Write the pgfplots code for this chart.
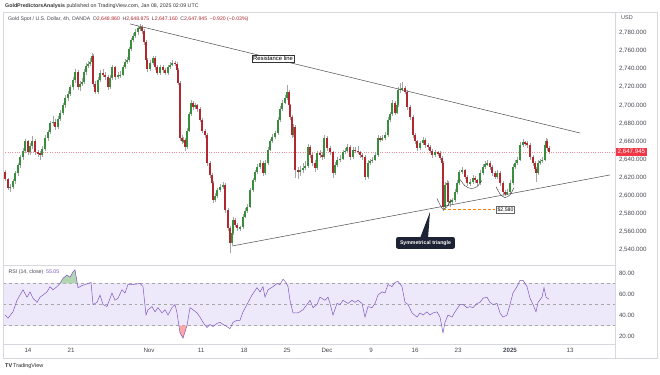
\documentclass[border=0pt]{standalone}
\usepackage{pgfplots}
\pgfplotsset{compat=1.18}
\usepackage{pgfplotstable}
\usepackage{fontspec}
\setmainfont{Liberation Sans}
\definecolor{upc}{RGB}{56,142,60}
\definecolor{dnc}{RGB}{178,40,48}
\definecolor{wick}{RGB}{165,165,165}
\definecolor{rsic}{RGB}{126,87,194}
\definecolor{band}{RGB}{238,233,250}
\definecolor{txt}{RGB}{70,72,82}
\definecolor{frame}{RGB}{215,215,222}
\definecolor{navy}{RGB}{30,34,53}
\definecolor{lastred}{RGB}{242,54,69}

\pgfplotstableread{
x o h l c
5 2626 2629 2616 2618
8 2618 2620 2606 2609
10 2609 2613 2604 2610
13 2610 2618 2607 2616
15 2616 2627 2613 2625
18 2625 2636 2622 2634
20 2634 2645 2631 2643
23 2643 2653 2640 2650
25 2650 2663 2647 2660
28 2660 2662 2645 2648
30 2648 2658 2645 2655
32 2655 2666 2652 2660
35 2660 2663 2645 2648
38 2648 2651 2643 2647
40 2647 2650 2640 2645
42 2645 2655 2643 2652
45 2652 2667 2650 2664
48 2664 2673 2661 2670
50 2670 2683 2668 2680
53 2680 2688 2677 2682
55 2682 2685 2673 2676
58 2676 2688 2674 2685
60 2685 2695 2683 2692
63 2692 2703 2689 2700
65 2700 2711 2697 2708
68 2708 2716 2705 2713
70 2713 2723 2710 2720
73 2720 2731 2717 2728
75 2728 2740 2725 2737
78 2737 2739 2717 2720
80 2720 2727 2716 2724
82 2724 2730 2721 2726
84 2726 2740 2724 2737
86 2737 2747 2734 2744
88 2744 2749 2741 2746
90 2746 2752 2743 2748
92 2748 2758 2745 2755
93 2755 2757 2720 2724
95 2724 2727 2712 2715
98 2715 2731 2713 2728
100 2728 2739 2726 2736
103 2736 2740 2731 2734
105 2734 2737 2728 2731
108 2731 2733 2717 2720
110 2720 2733 2718 2730
112 2730 2745 2728 2742
115 2742 2744 2728 2731
118 2731 2737 2729 2733
120 2733 2738 2730 2734
123 2734 2745 2732 2742
125 2742 2751 2740 2748
127 2748 2753 2746 2750
129 2750 2765 2748 2762
131 2762 2775 2760 2772
133 2772 2780 2770 2777
135 2777 2784 2774 2781
138 2781 2788 2778 2785
140 2785 2790 2782 2787
142 2787 2789 2779 2782
144 2782 2784 2767 2770
146 2770 2772 2747 2750
147 2750 2752 2737 2740
150 2740 2750 2738 2747
153 2747 2755 2745 2752
155 2752 2754 2739 2742
157 2742 2745 2733 2736
160 2736 2745 2734 2742
163 2742 2745 2736 2739
165 2739 2741 2733 2736
168 2736 2745 2734 2742
170 2742 2748 2740 2745
172 2745 2750 2743 2747
175 2747 2749 2743 2746
177 2746 2748 2737 2739
178 2739 2741 2722 2725
180 2725 2727 2660 2664
182 2664 2667 2657 2660
183 2660 2665 2658 2662
185 2662 2664 2650 2654
187 2654 2675 2652 2672
189 2672 2693 2670 2690
191 2690 2706 2688 2703
193 2703 2705 2695 2698
195 2698 2703 2696 2700
197 2700 2702 2693 2696
200 2696 2698 2681 2684
202 2684 2686 2669 2672
205 2672 2674 2664 2667
207 2667 2669 2633 2636
210 2636 2638 2620 2623
212 2623 2625 2611 2614
213 2614 2616 2592 2595
215 2595 2603 2593 2600
217 2600 2609 2598 2606
220 2606 2613 2604 2610
223 2610 2615 2608 2612
225 2612 2614 2581 2584
228 2584 2586 2561 2564
230 2564 2566 2537 2548
232 2548 2562 2546 2559
233 2559 2576 2557 2573
235 2573 2575 2565 2568
237 2568 2570 2561 2564
240 2564 2567 2561 2565
243 2565 2580 2563 2577
245 2577 2586 2575 2583
247 2583 2591 2581 2588
250 2588 2609 2586 2606
253 2606 2620 2604 2617
255 2617 2629 2615 2626
257 2626 2635 2624 2632
260 2632 2639 2630 2636
263 2636 2638 2622 2625
265 2625 2639 2623 2636
268 2636 2654 2634 2651
270 2651 2663 2649 2660
272 2660 2668 2658 2665
275 2665 2672 2663 2669
278 2669 2687 2667 2684
280 2684 2699 2682 2696
282 2696 2706 2694 2703
285 2703 2711 2701 2708
287 2708 2722 2706 2715
289 2715 2717 2697 2700
290 2700 2702 2684 2687
292 2687 2689 2664 2667
293 2667 2679 2665 2676
295 2676 2678 2620 2628
298 2628 2632 2618 2626
300 2626 2633 2622 2628
303 2628 2636 2625 2631
305 2631 2638 2628 2633
308 2633 2657 2631 2654
310 2654 2656 2642 2645
312 2645 2647 2633 2636
315 2636 2639 2626 2631
317 2631 2650 2629 2647
320 2647 2651 2642 2645
322 2645 2648 2640 2643
324 2643 2667 2641 2664
327 2664 2666 2650 2653
330 2653 2655 2645 2648
333 2648 2650 2620 2625
335 2625 2637 2623 2634
337 2634 2643 2632 2640
340 2640 2645 2637 2641
343 2641 2651 2639 2648
345 2648 2653 2646 2650
347 2650 2657 2648 2654
350 2654 2656 2640 2643
353 2643 2654 2641 2651
355 2651 2654 2647 2650
358 2650 2655 2646 2648
360 2648 2650 2642 2645
362 2645 2647 2640 2643
365 2643 2645 2617 2621
368 2621 2639 2619 2636
370 2636 2641 2634 2638
372 2638 2643 2636 2640
375 2640 2648 2638 2645
378 2645 2667 2643 2664
380 2664 2666 2659 2662
382 2662 2667 2660 2664
385 2664 2670 2662 2667
388 2667 2687 2665 2684
390 2684 2693 2682 2690
392 2690 2706 2688 2703
395 2703 2705 2689 2692
397 2692 2703 2690 2700
398 2700 2720 2698 2717
400 2717 2725 2714 2718
402 2718 2726 2716 2719
405 2719 2721 2712 2715
407 2715 2717 2695 2698
410 2698 2700 2684 2687
413 2687 2689 2664 2667
415 2667 2669 2657 2660
417 2660 2662 2650 2653
420 2653 2661 2651 2658
423 2658 2665 2656 2662
425 2662 2664 2653 2656
428 2656 2658 2651 2654
430 2654 2656 2647 2650
432 2650 2652 2642 2645
435 2645 2651 2643 2648
438 2648 2650 2644 2647
440 2647 2649 2639 2642
442 2642 2644 2633 2636
443 2636 2638 2583 2588
445 2588 2615 2586 2612
447 2612 2617 2609 2614
448 2614 2616 2590 2593
450 2593 2596 2588 2594
452 2594 2598 2591 2595
455 2595 2607 2593 2604
457 2604 2617 2602 2614
459 2614 2629 2612 2626
462 2626 2632 2624 2628
465 2628 2630 2618 2621
467 2621 2623 2611 2614
470 2614 2618 2611 2615
473 2615 2623 2613 2620
475 2620 2622 2614 2617
477 2617 2619 2611 2614
480 2614 2628 2612 2625
483 2625 2635 2623 2632
485 2632 2638 2630 2635
487 2635 2640 2633 2636
490 2636 2638 2629 2632
492 2632 2634 2622 2625
495 2625 2627 2618 2621
497 2621 2628 2619 2625
500 2625 2627 2611 2614
503 2614 2616 2601 2604
505 2604 2606 2600 2603
507 2603 2607 2601 2604
510 2604 2617 2602 2614
513 2614 2635 2612 2632
515 2632 2639 2630 2636
517 2636 2643 2634 2640
520 2640 2659 2638 2656
523 2656 2663 2654 2659
525 2659 2661 2655 2658
527 2658 2660 2653 2656
530 2656 2658 2640 2643
533 2643 2645 2633 2636
535 2636 2638 2627 2630
536 2630 2632 2615 2625
538 2625 2639 2623 2636
540 2636 2641 2634 2638
542 2638 2643 2636 2640
545 2640 2659 2638 2656
546 2656 2664 2654 2661
547 2661 2663 2650 2653
549 2653 2655 2646 2648
}\candles

\pgfplotstableread{
x v
5 40
8 37
13 43
17 54
20 59
23 64
27 57
30 62
33 56
37 52
40 57
43 59
47 62
50 67
53 64
57 67
60 70
63 75
67 78
70 76
73 81
75 83
78 66
82 68
85 69
88 70
91 71
93 50
97 52
100 59
103 50
107 48
112 61
115 54
118 56
122 64
125 61
128 69
133 69
140 70
143 67
146 40
148 45
152 48
155 43
158 47
162 42
165 45
168 40
172 47
175 50
177 42
180 23
183 18
187 30
190 47
193 45
197 42
200 38
203 33
207 28
210 31
213 29
217 32
220 33
223 31
227 29
230 27
233 33
237 35
240 35
243 43
247 50
252 59
257 66
260 62
263 67
265 57
268 64
273 67
277 70
280 69
283 74
286 71
288 67
290 54
293 42
298 42
303 45
307 50
310 54
313 47
317 50
320 57
325 54
328 57
330 51
333 40
337 51
340 50
343 54
348 51
352 54
355 52
358 54
362 51
365 38
368 48
372 47
375 51
378 59
382 62
385 61
388 69
392 67
395 71
398 72
402 67
405 52
408 50
412 42
417 38
420 42
423 40
427 43
430 40
433 42
437 43
440 38
443 23
445 33
448 40
452 38
455 43
460 50
463 50
467 47
470 48
473 47
477 51
480 52
483 56
487 57
490 52
493 50
497 51
500 42
503 38
507 40
510 50
513 61
517 67
520 73
523 73
527 67
530 56
533 50
536 43
538 52
542 57
544 66
546 57
549 55.05
}\rsi

\begin{document}
\begin{tikzpicture}
\useasboundingbox (0,0) rectangle (660bp,375bp);
\fill[white] (0,0) rectangle (660bp,375bp);

% ---------------- main price panel ----------------
\begin{axis}[
  at={(3bp,110bp)}, anchor=south west,
  scale only axis, width=612bp, height=253bp,
  xmin=3, xmax=615, ymin=2523.4, ymax=2803.2,
  axis line style={draw=frame, line width=0.5pt},
  xtick=\empty,
  ytick={2540,2560,...,2780},
  yticklabel pos=right,
  tick style={draw=none},
  yticklabel style={font=\fontsize{6.2}{7}\selectfont, text=txt, xshift=0.5bp,
    /pgf/number format/.cd, fixed, fixed zerofill, precision=3, 1000 sep={,}, assume math mode=true},
]
\addplot[lastred!55, dotted, line width=0.35pt] coordinates {(3,2647.945) (615,2647.945)};
% wicks
\addplot[draw=none, mark=none, error bars/.cd, y dir=both, y explicit, error mark=none,
  error bar style={draw=wick, line width=0.5pt}]
  table[x=x, y expr={(\thisrow{h}+\thisrow{l})/2}, y error expr={(\thisrow{h}-\thisrow{l})/2}] {\candles};
% up bodies
\addplot[draw=none, mark=none, restrict expr to domain={\thisrow{c}-\thisrow{o}}{0:1000},
  error bars/.cd, y dir=both, y explicit, error mark=none,
  error bar style={draw=upc, line width=1.4pt}]
  table[x=x, y expr={(\thisrow{o}+\thisrow{c})/2}, y error expr={abs(\thisrow{c}-\thisrow{o})/2}] {\candles};
% down bodies
\addplot[draw=none, mark=none, restrict expr to domain={\thisrow{c}-\thisrow{o}}{-1000:-0.001},
  error bars/.cd, y dir=both, y explicit, error mark=none,
  error bar style={draw=dnc, line width=1.4pt}]
  table[x=x, y expr={(\thisrow{o}+\thisrow{c})/2}, y error expr={abs(\thisrow{c}-\thisrow{o})/2}] {\candles};
% trend lines
\addplot[black!70, line width=0.5pt] coordinates {(130,2790) (580,2669.4)};
\addplot[black!70, line width=0.5pt] coordinates {(232,2544.4) (610,2623)};
\addplot[orange, densely dashed, line width=0.4pt] coordinates {(443,2584.8) (495,2584.8)};
% arcs
\addplot[black!80, line width=0.4pt, smooth] coordinates {(437,2597) (440,2590) (443,2585) (447,2588) (451,2595)};
\addplot[black!80, line width=0.4pt, smooth] coordinates {(460,2618) (465,2611) (471,2608) (477,2610) (482,2617)};
\addplot[black!80, line width=0.4pt, smooth] coordinates {(496,2610) (500,2602) (505,2598) (510,2601) (514,2609)};
% annotations
\node[draw=black!80, fill=white, inner sep=1.3bp, font=\fontsize{5.9}{6.5}\selectfont] at (axis cs:273,2752) {Resistance line};
\node[draw=black!60, fill=white, inner sep=1.2bp, font=\fontsize{5.2}{6}\selectfont] at (axis cs:505.5,2584.8) {\$2,580};
\fill[navy] (axis cs:420,2553) -- (axis cs:430,2582) -- (axis cs:428,2553) -- cycle;
\node[fill=navy, text=white, rounded corners=2bp, font=\bfseries\fontsize{5.2}{6}\selectfont, inner xsep=4bp, inner ysep=3.4bp] at (axis cs:425.5,2547.8) {Symmetrical triangle};
\end{axis}

% ---------------- RSI panel ----------------
\begin{axis}[
  at={(3bp,31bp)}, anchor=south west,
  scale only axis, width=612bp, height=79bp,
  xmin=3, xmax=615, ymin=12.4, ymax=87.6,
  axis line style={draw=frame, line width=0.5pt},
  ytick={20,40,60,80},
  yticklabel pos=right,
  tick style={draw=none},
  yticklabel style={font=\fontsize{6.2}{7}\selectfont, text=txt, xshift=0.5bp,
    /pgf/number format/.cd, fixed, fixed zerofill, precision=2, assume math mode=true},
  xtick={28,71,149,201,244,287,327,371,415,458,510,570},
  xticklabels={14,21,Nov,11,18,25,Dec,9,16,23,\textbf{2025},13},
  xticklabel style={font=\fontsize{6.2}{7}\selectfont, text=txt, yshift=-1bp},
]
\addplot[draw=none, fill=band] coordinates {(3,30) (615,30) (615,70) (3,70)} -- cycle;
\addplot[black!35, dashed, line width=0.35pt] coordinates {(3,70) (615,70)};
\addplot[black!35, dashed, line width=0.35pt] coordinates {(3,50) (615,50)};
\addplot[black!35, dashed, line width=0.35pt] coordinates {(3,30) (615,30)};
\addplot[draw=none, fill=green!45!black!30!white] coordinates {(60,70) (63,75) (67,78) (70,76) (73,81) (75,83) (77.4,70)} -- cycle;
\addplot[draw=none, fill=red!35!white] coordinates {(179.1,30) (180,23) (183,18) (187,30)} -- cycle;
\addplot[rsic, line width=0.5pt] table[x=x, y=v] {\rsi};
\node[anchor=west, font=\fontsize{5.3}{6}\selectfont, text=txt] at (axis cs:5,81) {RSI (14, close)\enspace\textcolor{rsic}{55.05}};
\end{axis}

% ---------------- frame and texts ----------------
\draw[frame, line width=0.5pt] (3bp,17bp) rectangle (657bp,363bp);
\draw[frame, line width=0.5pt] (615bp,17bp) -- (615bp,363bp);
\node[anchor=west, font=\fontsize{5.3}{6}\selectfont, text=black!80, inner sep=0] at (5bp,369bp)
  {\textbf{GoldPredictorsAnalysis} published on TradingView.com, Jan 08, 2025 02:09 UTC};
\node[anchor=west, font=\fontsize{5.2}{6}\selectfont, text=txt, inner sep=0] at (8bp,356bp)
  {Gold Spot / U.S. Dollar, 4h, OANDA\enspace O\textcolor{dnc}{2,648.860}\enspace H\textcolor{dnc}{2,648.875}\enspace L\textcolor{dnc}{2,647.160}\enspace C\textcolor{dnc}{2,647.945}\enspace\textcolor{dnc}{−0.920 (−0.03\%)}};
\node[anchor=west, font=\fontsize{5.5}{6}\selectfont, text=txt, inner sep=0] at (621bp,357bp) {USD};
\node[anchor=west, fill=lastred, text=white, font=\fontsize{6.2}{7}\selectfont, inner xsep=1.5bp, inner ysep=1.2bp] at (616bp,223bp) {2,647.945};
\node[anchor=west, font=\fontsize{5.5}{6}\selectfont, text=black!85, inner sep=0] at (5bp,9bp) {\textbf{TV}\,TradingView};
\end{tikzpicture}
\end{document}
